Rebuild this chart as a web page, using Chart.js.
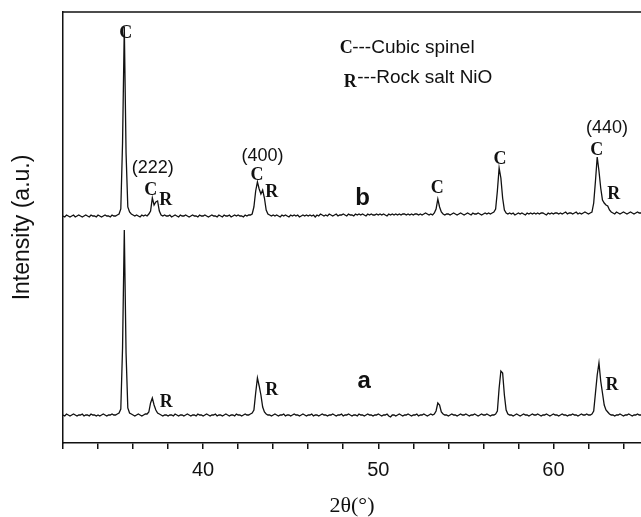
<!DOCTYPE html>
<html>
<head>
<meta charset="utf-8">
<script src="https://cdn.jsdelivr.net/npm/chart.js@4"></script>
<style>
    body { margin: 0; background: #fff; }
    #wrap { width: 641px; height: 517px; }
</style>
</head>
<body>
<div id="wrap"><canvas id="xrdChart"></canvas></div>
<script>
// === Data (2theta from 32.0 to 65.0, step 0.1) ===
const startAngle = 32;
const angleStep = 0.1;

// sample b (upper trace)
const patternB = [
    227, 226, 228, 227, 226, 227, 228, 226, 227, 228, // 32
    227, 226, 227, 228, 227, 226, 228, 227, 227, 226, // 33
    228, 227, 226, 227, 228, 227, 227, 226, 228, 227, // 34
    227, 228, 229, 234, 300, 416, 290, 236, 231, 229, // 35
    228, 227, 228, 227, 226, 228, 227, 228, 227, 229, // 36
    232, 245, 238, 241, 242, 232, 228, 227, 228, 227, // 37
    227, 228, 226, 227, 228, 227, 226, 228, 227, 227, // 38
    228, 227, 226, 227, 228, 227, 227, 226, 228, 227, // 39
    227, 228, 227, 226, 227, 228, 227, 227, 226, 228, // 40
    227, 226, 228, 227, 227, 228, 226, 227, 228, 227, // 41
    228, 227, 227, 226, 228, 227, 228, 228, 229, 236, // 42
    252, 261, 254, 249, 253, 245, 233, 229, 228, 227, // 43
    228, 227, 228, 227, 226, 228, 227, 228, 227, 226, // 44
    228, 227, 228, 227, 228, 226, 227, 228, 227, 228, // 45
    227, 228, 227, 228, 226, 228, 227, 229, 228, 227, // 46
    228, 227, 229, 228, 227, 228, 229, 227, 228, 228, // 47
    229, 228, 227, 229, 228, 228, 227, 229, 228, 229, // 48
    228, 229, 228, 227, 229, 228, 229, 228, 228, 229, // 49
    228, 229, 228, 229, 228, 227, 229, 228, 229, 228, // 50
    229, 228, 229, 228, 229, 229, 228, 229, 228, 229, // 51
    228, 229, 229, 228, 229, 228, 229, 230, 229, 228, // 52
    229, 228, 230, 234, 244, 236, 231, 229, 228, 229, // 53
    229, 228, 229, 230, 229, 228, 229, 230, 229, 228, // 54
    229, 230, 229, 228, 230, 229, 229, 230, 229, 228, // 55
    229, 230, 229, 230, 229, 230, 231, 234, 252, 275, // 56
    265, 245, 233, 230, 229, 230, 229, 230, 228, 229, // 57
    230, 229, 230, 229, 228, 230, 229, 230, 229, 230, // 58
    229, 230, 229, 230, 230, 229, 228, 230, 229, 230, // 59
    229, 230, 230, 229, 230, 229, 230, 231, 229, 230, // 60
    230, 229, 230, 231, 229, 230, 229, 230, 231, 230, // 61
    229, 230, 231, 240, 262, 286, 272, 255, 243, 240, // 62
    238, 237, 233, 231, 230, 229, 231, 230, 229, 230, // 63
    231, 230, 229, 230, 231, 230, 229, 230, 231, 230, // 64
    230                                               // 65
];

// sample a (lower trace)
const patternA = [
    28, 27, 29, 28, 27, 28, 29, 28, 27, 28, // 32
    28, 29, 27, 28, 28, 27, 29, 28, 28, 27, // 33
    28, 27, 28, 29, 28, 27, 28, 28, 29, 28, // 34
    28, 29, 30, 34, 95, 213, 90, 35, 30, 29, // 35
    28, 27, 28, 29, 28, 27, 28, 29, 29, 31, // 36
    40, 45, 38, 33, 30, 29, 28, 27, 28, 28, // 37
    27, 28, 28, 27, 29, 28, 27, 28, 28, 27, // 38
    28, 29, 28, 27, 28, 28, 27, 29, 28, 28, // 39
    27, 28, 29, 28, 27, 28, 28, 29, 27, 28, // 40
    28, 27, 28, 29, 28, 27, 28, 28, 27, 29, // 41
    28, 28, 27, 28, 29, 28, 28, 29, 30, 33, // 42
    50, 65, 57, 48, 36, 31, 29, 28, 28, 27, // 43
    28, 29, 28, 27, 28, 28, 29, 27, 28, 28, // 44
    27, 28, 29, 28, 28, 27, 28, 29, 28, 27, // 45
    28, 28, 29, 27, 28, 28, 27, 28, 29, 28, // 46
    28, 27, 28, 28, 29, 28, 27, 28, 28, 29, // 47
    27, 28, 28, 29, 28, 27, 28, 28, 27, 29, // 48
    28, 28, 27, 28, 29, 28, 28, 27, 28, 28, // 49
    29, 28, 27, 28, 28, 29, 27, 26, 28, 28, // 50
    27, 28, 29, 28, 27, 28, 28, 29, 28, 27, // 51
    28, 28, 29, 27, 28, 28, 29, 28, 27, 28, // 52
    29, 28, 29, 32, 40, 38, 31, 29, 28, 28, // 53
    27, 28, 29, 28, 28, 27, 28, 29, 28, 28, // 54
    29, 28, 27, 28, 28, 29, 28, 27, 28, 29, // 55
    28, 28, 29, 28, 27, 28, 28, 29, 32, 55, // 56
    72, 70, 48, 33, 29, 28, 28, 27, 28, 29, // 57
    28, 27, 28, 29, 28, 28, 27, 28, 29, 28, // 58
    28, 29, 28, 27, 28, 28, 29, 28, 27, 28, // 59
    29, 28, 28, 27, 28, 29, 28, 28, 27, 28, // 60
    28, 29, 28, 28, 27, 28, 29, 28, 28, 29, // 61
    28, 28, 29, 32, 50, 68, 80, 62, 50, 38, // 62
    33, 31, 29, 28, 28, 27, 28, 28, 29, 28, // 63
    27, 28, 28, 29, 28, 27, 28, 28, 29, 28, // 64
    28                                      // 65
];

// phase marks: [letter, 2theta, intensity at letter baseline]
const phaseMarks = [
    ['C', 35.58, 405], ['C', 37.01, 248], ['R', 37.87, 238],
    ['C', 43.07, 263], ['R', 43.92, 246], ['C', 53.37, 250],
    ['C', 56.95, 279], ['C', 62.48, 288], ['R', 63.45, 244],
    ['R', 37.90, 36], ['R', 43.92, 48], ['R', 63.35, 53]
];
const hklLabels = [['(222)', 37.12, 270], ['(400)', 43.39, 282], ['(440)', 63.06, 310]];
const sampleLabels = [['a', 49.2, 55], ['b', 49.1, 238]];
const legendKeys = [['C', 48.17, 390], ['R', 48.40, 356]];
const legendTexts = [['---Cubic spinel', 48.51, 390], ['---Rock salt NiO', 48.80, 360]];

const INK = '#111';
const SANS = '"Liberation Sans", Arial, sans-serif';
const SERIF = '"Liberation Serif", "Times New Roman", serif';

const toPoints = values => values.map((v, i) => ({ x: +(startAngle + i * angleStep).toFixed(1), y: v }));

// === Text labels + top frame line ===
const labelPlugin = {
    id: 'xrdLabels',
    afterDraw(chart) {
        const { ctx, chartArea, scales: { x, y } } = chart;
        ctx.save();
        ctx.strokeStyle = INK;
        ctx.lineWidth = 1.5;
        ctx.beginPath();
        ctx.moveTo(chartArea.left, chartArea.top);
        ctx.lineTo(chartArea.right, chartArea.top);
        ctx.stroke();

        ctx.fillStyle = INK;
        ctx.textBaseline = 'alphabetic';
        const put = (list, font, align) => {
            ctx.font = font;
            ctx.textAlign = align;
            list.forEach(([t, vx, vy]) => ctx.fillText(t, x.getPixelForValue(vx), y.getPixelForValue(vy)));
        };
        put(phaseMarks, 'bold 18px ' + SERIF, 'center');
        put(legendKeys, 'bold 18px ' + SERIF, 'center');
        put(hklLabels, '18px ' + SANS, 'center');
        put(legendTexts, '19px ' + SANS, 'left');
        put(sampleLabels, 'bold 24px ' + SANS, 'center');
        ctx.restore();
    }
};

const lineStyle = {
    borderColor: INK,
    borderWidth: 1.3,
    pointRadius: 0,
    tension: 0,
    fill: false
};

new Chart(document.getElementById('xrdChart'), {
    type: 'line',
    data: {
        datasets: [
            { label: 'b', data: toPoints(patternB), ...lineStyle },
            { label: 'a', data: toPoints(patternA), ...lineStyle }
        ]
    },
    options: {
        responsive: true,
        maintainAspectRatio: false,
        animation: false,
        layout: { padding: { top: 12, left: 0, right: 0, bottom: 0 } },
        plugins: {
            legend: { display: false },
            tooltip: { enabled: false }
        },
        scales: {
            x: {
                type: 'linear',
                min: 32,
                max: 65,
                afterFit: s => { s.height = 74; },
                border: { display: true, color: INK, width: 1.5 },
                grid: { drawOnChartArea: false, drawTicks: true, tickLength: 6, color: INK, lineWidth: 1.5 },
                ticks: {
                    stepSize: 2,
                    includeBounds: false,
                    autoSkip: false,
                    maxRotation: 0,
                    padding: 9,
                    color: INK,
                    font: { family: SANS, size: 20 },
                    callback: v => (v % 10 === 0 ? v : '')
                },
                title: {
                    display: true,
                    text: '2θ(°)',
                    color: INK,
                    font: { family: SERIF, size: 22, lineHeight: 1 },
                    padding: { top: 0, bottom: 0 }
                }
            },
            y: {
                min: 0,
                max: 431,
                afterFit: s => { s.width = 63; },
                border: { display: true, color: INK, width: 1.5 },
                grid: { display: false },
                ticks: { display: false },
                title: {
                    display: true,
                    text: 'Intensity (a.u.)',
                    color: INK,
                    font: { family: SANS, size: 23, lineHeight: 1 },
                    padding: { top: 11, bottom: 0 }
                }
            }
        }
    },
    plugins: [labelPlugin]
});
</script>
</body>
</html>
